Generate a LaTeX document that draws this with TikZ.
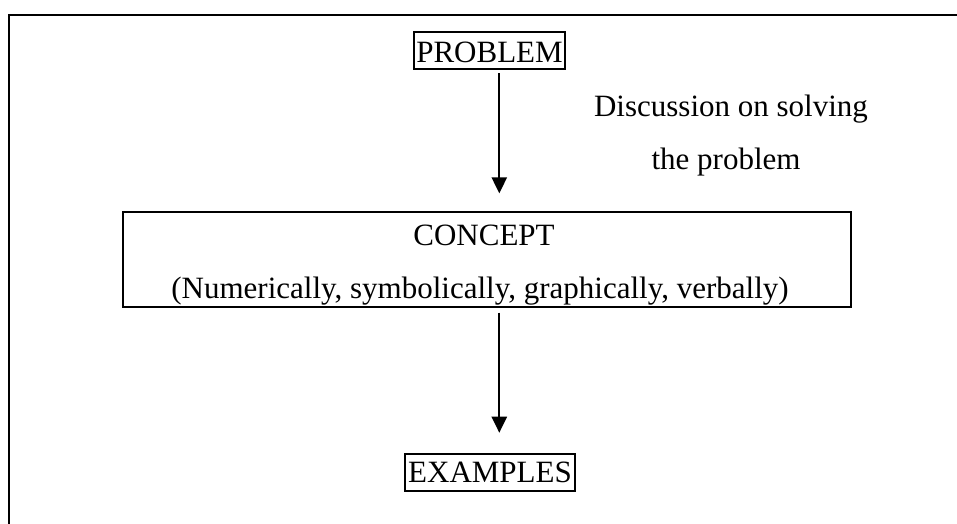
\documentclass[tikz,border=0pt]{standalone}
\usepackage{fontspec}
\setmainfont{Liberation Serif}
\usetikzlibrary{arrows.meta}
\begin{document}
\begin{tikzpicture}[x=1pt,y=-1pt,
  txt/.style={font=\fontsize{31}{53}\selectfont, inner sep=0pt},
  boxed/.style={txt, draw, line width=2pt, minimum height=37.6pt},
  arr/.style={line width=1.7pt, -{Triangle[width=15.3pt,length=16pt]}}]
\useasboundingbox (0,0) rectangle (957,523);
% frame
\draw[line width=2pt] (9.3,524) -- (9.3,15) -- (958,15);
% nodes
\node[boxed, minimum width=150.4pt, text height=24.4pt, text depth=0pt] (prob) at (489.5,50.5) {PROBLEM};
\node[draw, line width=2pt, minimum width=728pt, minimum height=95.6pt, inner sep=0pt] (concept) at (486.7,259.5) {};
\node[txt, anchor=base] (c1) at (484,245) {CONCEPT};
\node[txt, anchor=base] (c2) at (480,298) {(Numerically, symbolically, graphically, verbally)};
\node[boxed, minimum width=169.4pt, text height=20.4pt, text depth=0pt] (exam) at (490,472.5) {EXAMPLES};
\node[txt, anchor=base] (d1) at (731,116) {Discussion on solving};
\node[txt, anchor=base] (d2) at (726,169) {the problem};
% connectors
\coordinate (ax) at (499.3,0);
\draw[arr, shorten <=3pt, shorten >=17.4pt] (prob.south -| ax) -- (concept.north -| ax);
\draw[arr, shorten <=4.4pt, shorten >=20pt] (concept.south -| ax) -- (exam.north -| ax);
\end{tikzpicture}
\end{document}
